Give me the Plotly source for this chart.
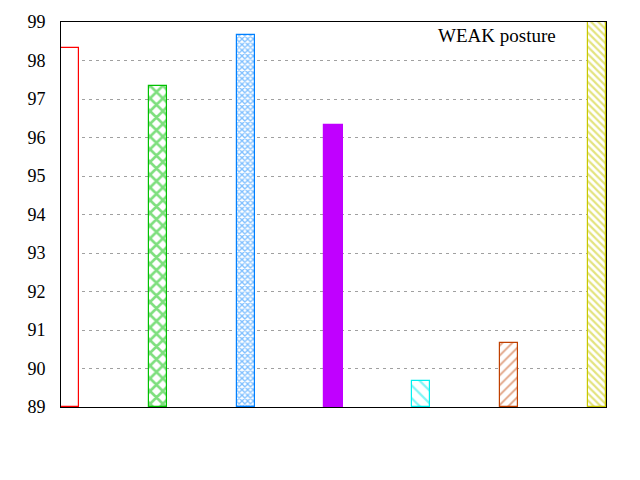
import plotly.graph_objects as go

categories = [0, 1, 2, 3, 4, 5, 6]
values = [98.32, 97.33, 98.66, 96.32, 89.67, 90.65, 99.6]
colors = ["#ff0000", "#00c000", "#0080ff", "#c000ff", "#00eeee", "#c04000", "#c8c800"]
patterns = ["", "x", "x", "", "\\", "/", "\\"]
pattern_sizes = [8, 9, 4, 8, 9, 7, 5]
pattern_solidity = [0.3, 0.5, 0.55, 0.3, 0.25, 0.25, 0.45]
solid_fill = [False, False, False, True, False, False, False]
y_ticks = [89, 90, 91, 92, 93, 94, 95, 96, 97, 98, 99]
base = 89

fig = go.Figure()
for i, (c, v) in enumerate(zip(categories, values)):
    fill = colors[i] if solid_fill[i] else "white"
    fig.add_trace(go.Bar(
        x=[c], y=[v - base], base=[base], width=0.205,
        marker=dict(
            color=fill,
            line=dict(color=colors[i], width=1.2),
            pattern=dict(shape=patterns[i], fgcolor=colors[i], bgcolor="white",
                         size=pattern_sizes[i], solidity=pattern_solidity[i]) if patterns[i] else None,
        ),
        showlegend=False,
    ))

fig.add_annotation(x=0.912, y=0.964, xref="paper", yref="paper", text="WEAK posture",
                   showarrow=False, xanchor="right", yanchor="middle",
                   font=dict(family="Liberation Serif", size=19, color="black"))

fig.update_layout(
    width=640, height=480,
    margin=dict(l=61, r=34, t=22, b=73),
    plot_bgcolor="white", paper_bgcolor="white",
    bargap=0,
    font=dict(family="Liberation Serif", size=18, color="black"),
    xaxis=dict(range=[-0.1, 6.1], showticklabels=False, ticks="", showgrid=False,
               zeroline=False, showline=True, linecolor="black", linewidth=1, mirror=True,
               automargin=False),
    yaxis=dict(range=[89, 99], tickvals=y_ticks, ticks="", showgrid=True,
               gridcolor="#a0a0a0", griddash="3px,4px", gridwidth=1,
               zeroline=False, showline=True, linecolor="black", linewidth=1, mirror=True,
               ticklabelstandoff=11, automargin=False),
)

fig.write_html("out.html", config={"displayModeBar": False},
               post_script="document.body.style.margin='0';")
